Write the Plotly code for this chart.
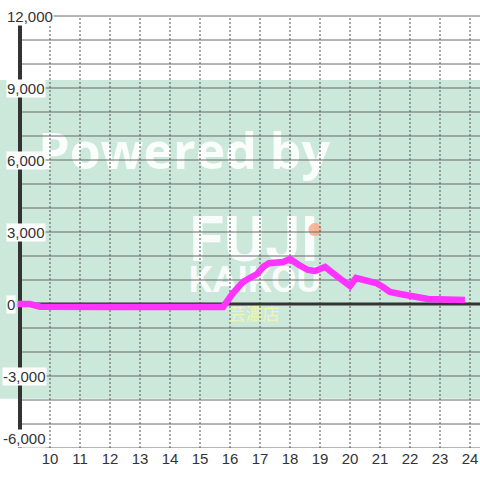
import plotly.graph_objects as go

# ---- data ----
hours = [8.92, 9.33, 9.67, 10.0, 11.0, 12.0, 13.0, 14.0, 15.0, 15.77, 16.1, 16.43, 16.6,
         16.9, 17.1, 17.3, 17.77, 18.0, 18.3, 18.6, 18.83, 19.17, 19.6, 20.0, 20.2,
         20.6, 20.87, 21.1, 21.33, 21.67, 22.0, 22.33, 22.6, 23.83]
values = [0, 0, -110, -120, -120, -120, -120, -120, -120, -120, 458, 917, 1040,
          1250, 1540, 1700, 1750, 1875, 1625, 1417, 1375, 1540, 1125, 750, 1083,
          958, 875, 708, 500, 417, 333, 250, 208, 167]

x_ticks = [10, 11, 12, 13, 14, 15, 16, 17, 18, 19, 20, 21, 22, 23, 24]
x_tick_labels = [str(h) for h in x_ticks]
y_ticks = [12000, 9000, 6000, 3000, 0, -3000, -6000]
y_tick_labels = ["12,000", "9,000", "6,000", "3,000", "0", "-3,000", "-6,000"]
grid_values = list(range(-6000, 12001, 1000))
band_low, band_high = -3950, 9330

X_MIN, X_MAX = 8.3333, 24.3333
Y_MIN, Y_MAX = -6000, 12666.67
AXIS_X = 9.0

fig = go.Figure()

# watermark (drawn first so grid & line sit above it)
fig.add_trace(go.Scatter(x=[14.47], y=[6150], mode="text", text=["<b>Powered by</b>"],
                         textfont=dict(family="Open Sans", size=50, color="rgba(255,255,255,0.88)"),
                         hoverinfo="skip", showlegend=False))
fig.add_trace(go.Scatter(x=[16.8], y=[2460], mode="text", text=["<b>FUJI</b>"],
                         textfont=dict(family="Roboto", size=63, color="rgba(255,255,255,0.85)"),
                         hoverinfo="skip", showlegend=False))
fig.add_trace(go.Scatter(x=[16.83], y=[900], mode="text", text=["<b>KAIKOU</b>"],
                         textfont=dict(family="Roboto", size=37, color="rgba(255,255,255,0.85)"),
                         hoverinfo="skip", showlegend=False))
fig.add_trace(go.Scatter(x=[16.8], y=[-500], mode="text", text=["芸濃店"],
                         textfont=dict(family="Noto Sans CJK JP", size=17, color="rgba(250,250,160,0.75)"),
                         hoverinfo="skip", showlegend=False))
fig.add_trace(go.Scatter(x=[18.83], y=[3100], mode="markers",
                         marker=dict(size=13, color="rgba(250,170,140,0.85)"),
                         hoverinfo="skip", showlegend=False))

# horizontal grid lines
gx, gy = [], []
for v in grid_values:
    if v == 0:
        continue
    gx += [AXIS_X, X_MAX, None]
    gy += [v, v, None]
fig.add_trace(go.Scatter(x=gx, y=gy, mode="lines", line=dict(color="#6a6a6a", width=1),
                         hoverinfo="skip", showlegend=False))
# vertical dashed grid lines
vx, vy = [], []
for h in x_ticks:
    vx += [h, h, None]
    vy += [grid_values[0], grid_values[-1], None]
fig.add_trace(go.Scatter(x=vx, y=vy, mode="lines", line=dict(color="#555555", width=1, dash="2px,2px"),
                         hoverinfo="skip", showlegend=False))
# left axis line and zero line
fig.add_trace(go.Scatter(x=[AXIS_X, AXIS_X], y=[grid_values[0], grid_values[-1]], mode="lines",
                         line=dict(color="#333333", width=4), hoverinfo="skip", showlegend=False))
fig.add_trace(go.Scatter(x=[AXIS_X, X_MAX], y=[0, 0], mode="lines",
                         line=dict(color="#333333", width=3), hoverinfo="skip", showlegend=False))

# main series
fig.add_trace(go.Scatter(x=hours, y=values, mode="lines",
                         line=dict(color="#ff33ff", width=6.5), showlegend=False))

# green band
fig.add_shape(type="rect", xref="paper", x0=0, x1=1, yref="y", y0=band_low, y1=band_high,
              fillcolor="#cce8db", line_width=0, layer="below")

# y tick labels with white boxes
for v, t in zip(y_ticks, y_tick_labels):
    fig.add_annotation(xref="paper", x=0, xanchor="left", xshift=(3 if v < 0 else 7) - 1,
                       y=v, yanchor="bottom" if v == y_ticks[-1] else "middle",
                       text=t, showarrow=False, bgcolor="white", borderpad=0,
                       font=dict(family="Liberation Sans", size=15, color="#333333"))

fig.update_layout(
    width=480, height=480,
    margin=dict(l=0, r=0, t=0, b=32, autoexpand=False),
    paper_bgcolor="white", plot_bgcolor="white",
    xaxis=dict(range=[X_MIN, X_MAX], tickvals=x_ticks, ticktext=x_tick_labels, ticks="",
               showgrid=False, zeroline=False, showline=False, fixedrange=True, automargin=False,
               tickfont=dict(family="Liberation Sans", size=15, color="#333333")),
    yaxis=dict(range=[Y_MIN, Y_MAX], showticklabels=False, ticks="", showgrid=False,
               zeroline=False, showline=False, fixedrange=True, automargin=False),
    showlegend=False,
)

fig.write_html("out.html", config={"displayModeBar": False},
               post_script="document.body.style.margin='0';document.body.style.overflow='hidden';")
